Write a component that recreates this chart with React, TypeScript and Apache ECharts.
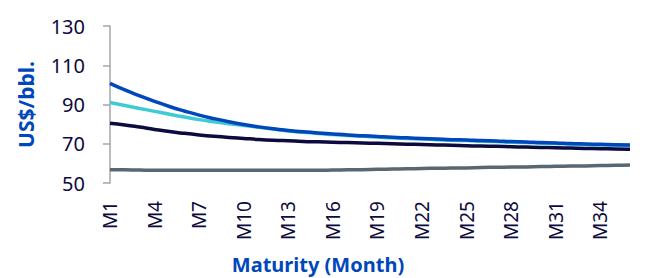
import React, { useEffect, useRef } from "react";
import * as echarts from "echarts";

const months: string[] = Array.from({ length: 36 }, (_, i) => `M${i + 1}`);

const seriesBlue: number[] = [
  100.8, 97.4, 94.4, 91.6, 89.0, 86.7, 84.6, 82.8, 81.2, 79.8, 78.6, 77.6,
  76.8, 76.1, 75.5, 75.0, 74.5, 74.1, 73.7, 73.3, 73.0, 72.7, 72.4, 72.1,
  71.9, 71.6, 71.4, 71.1, 70.9, 70.6, 70.4, 70.1, 69.9, 69.7, 69.5, 69.4,
];

const seriesCyan: number[] = [
  91.0, 89.5, 88.0, 86.5, 85.0, 83.6, 82.3, 81.2, 80.2, 79.3, 78.4, 77.5,
  76.5, 75.8, 75.2, 74.7, 74.2, 73.8, 73.4, 73.0, 72.7, 72.4, 72.1, 71.8,
  71.6, 71.3, 71.1, 70.8, 70.6, 70.3, 70.1, 69.8, 69.6, 69.4, 69.2, 69.1,
];

const seriesNavy: number[] = [
  80.4, 79.6, 78.5, 77.3, 76.2, 75.3, 74.5, 73.8, 73.2, 72.7, 72.2, 71.8,
  71.5, 71.2, 71.0, 70.8, 70.6, 70.4, 70.2, 70.0, 69.8, 69.6, 69.4, 69.2,
  69.0, 68.8, 68.7, 68.5, 68.3, 68.1, 68.0, 67.8, 67.6, 67.5, 67.3, 67.2,
];

const seriesGray: number[] = [
  56.8, 56.7, 56.6, 56.5, 56.5, 56.5, 56.5, 56.5, 56.5, 56.5, 56.5, 56.5,
  56.5, 56.5, 56.5, 56.6, 56.7, 56.8, 57.0, 57.1, 57.2, 57.4, 57.5, 57.6,
  57.7, 57.9, 58.0, 58.1, 58.2, 58.4, 58.5, 58.6, 58.7, 58.9, 59.0, 59.2,
];

const yTicks = { min: 50, max: 130, interval: 20 };
const yAxisTitle = "US$/bbl.";
const xAxisTitle = "Maturity (Month)";

const FONT = "'Noto Sans', 'Open Sans', sans-serif";
const LABEL_COLOR = "#0c0a3e";
const TITLE_COLOR = "#0047bb";

export default function App() {
  const ref = useRef<HTMLDivElement>(null);

  useEffect(() => {
    if (!ref.current) return;
    const chart = echarts.init(ref.current, undefined, { renderer: "svg" });
    const mkLine = (name: string, data: number[], color: string, width = 3.5) => ({
      name,
      type: "line",
      data,
      symbol: "none",
      smooth: true,
      lineStyle: { color, width },
      itemStyle: { color },
    });
    chart.setOption({
      animation: false,
      backgroundColor: "#ffffff",
      grid: { left: 110, right: 15, top: 26, bottom: 95, containLabel: false },
      xAxis: {
        type: "category",
        data: months,
        boundaryGap: false,
        axisLine: { show: false },
        axisTick: { show: false },
        splitLine: { show: false },
        axisLabel: {
          interval: 2,
          rotate: 90,
          margin: 18,
          color: LABEL_COLOR,
          fontFamily: FONT,
          fontSize: 19,
        },
      },
      yAxis: {
        type: "value",
        min: yTicks.min,
        max: yTicks.max,
        interval: yTicks.interval,
        name: yAxisTitle,
        nameLocation: "middle",
        nameGap: 74,
        nameTextStyle: {
          color: TITLE_COLOR,
          fontFamily: FONT,
          fontWeight: "bold",
          fontSize: 21,
        },
        axisLine: { show: true, lineStyle: { color: "#a6a6a6", width: 1.5 } },
        axisTick: { show: true, length: 7, lineStyle: { color: "#a6a6a6", width: 1.5 } },
        splitLine: { show: false },
        axisLabel: {
          margin: 25,
          color: LABEL_COLOR,
          fontFamily: FONT,
          fontSize: 20,
        },
      },
      graphic: [
        {
          type: "text",
          x: 318,
          y: 264,
          style: {
            text: xAxisTitle,
            fill: TITLE_COLOR,
            font: `bold 20px ${FONT}`,
            textAlign: "center",
            textVerticalAlign: "middle",
          },
        },
      ],
      series: [
        mkLine("Gray", seriesGray, "#5b6770"),
        mkLine("Cyan", seriesCyan, "#3fcbd3"),
        mkLine("Blue", seriesBlue, "#0047bb"),
        mkLine("Navy", seriesNavy, "#0c0a3e"),
      ],
    });
    return () => chart.dispose();
  }, []);

  return (
    <div
      ref={ref}
      style={{ position: "fixed", left: 0, top: 0, width: 645, height: 278 }}
    />
  );
}
